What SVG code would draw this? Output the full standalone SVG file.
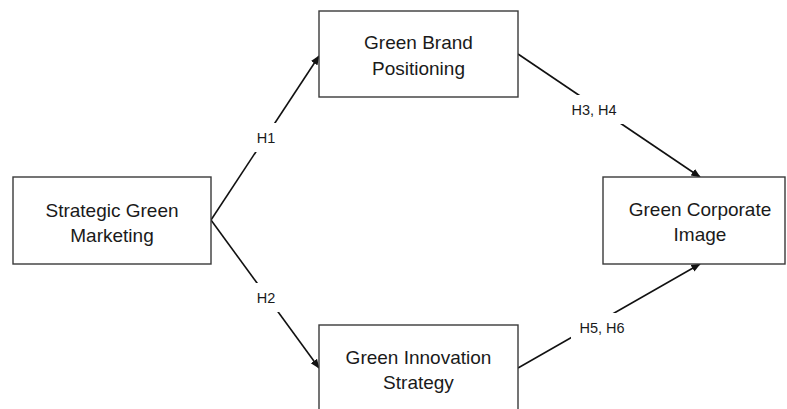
<svg xmlns="http://www.w3.org/2000/svg" width="787" height="409" viewBox="0 0 787 409">
  <style>
    .box { fill: #ffffff; stroke: #3a3a3a; stroke-width: 1.4; }
    .node-text { font-family: "Liberation Sans", Arial, sans-serif; font-size: 19px; fill: #1a1a1a; text-anchor: middle; }
    .edge { stroke: #111111; stroke-width: 1.6; fill: none; marker-end: url(#arrow); }
    .label-bg { fill: #ffffff; }
    .label { font-family: "Liberation Sans", Arial, sans-serif; font-size: 14.5px; fill: #1a1a1a; text-anchor: middle; }
  </style>
  <defs>
    <marker id="arrow" viewBox="0 0 10 10" refX="9" refY="5" markerWidth="6" markerHeight="6" orient="auto" markerUnits="strokeWidth">
      <path d="M0,1 L10,5 L0,9 Z" fill="#111111"/>
    </marker>
  </defs>
  <rect width="787" height="409" fill="#ffffff"/>

  <g id="connectors">
    <line class="edge" x1="211" y1="220" x2="319" y2="56"/>
    <line class="edge" x1="211" y1="220" x2="319" y2="368"/>
    <line class="edge" x1="518" y1="54" x2="700" y2="177"/>
    <line class="edge" x1="518" y1="368" x2="700" y2="264"/>
    <g id="edge-labels">
      <rect class="label-bg" x="248" y="123" width="36" height="29"/>
      <text class="label" x="266" y="143">H1</text>
      <rect class="label-bg" x="248" y="283" width="36" height="29"/>
      <text class="label" x="266" y="303">H2</text>
      <rect class="label-bg" x="563" y="95" width="62" height="29"/>
      <text class="label" x="594" y="115">H3, H4</text>
      <rect class="label-bg" x="571" y="313" width="62" height="29"/>
      <text class="label" x="602" y="333">H5, H6</text>
    </g>
  </g>

  <g id="strategic-green-marketing">
    <rect class="box" x="13" y="177" width="198" height="87"/>
    <text class="node-text" x="112" y="217">Strategic Green</text>
    <text class="node-text" x="112" y="242">Marketing</text>
  </g>

  <g id="green-brand-positioning">
    <rect class="box" x="319" y="11" width="199" height="86"/>
    <text class="node-text" x="418.5" y="49">Green Brand</text>
    <text class="node-text" x="418.5" y="75">Positioning</text>
  </g>

  <g id="green-innovation-strategy">
    <rect class="box" x="319" y="325" width="199" height="87"/>
    <text class="node-text" x="418.5" y="364">Green Innovation</text>
    <text class="node-text" x="418.5" y="389">Strategy</text>
  </g>

  <g id="green-corporate-image">
    <rect class="box" x="603" y="177" width="182" height="87"/>
    <text class="node-text" x="700" y="216">Green Corporate</text>
    <text class="node-text" x="700" y="241">Image</text>
  </g>
</svg>
